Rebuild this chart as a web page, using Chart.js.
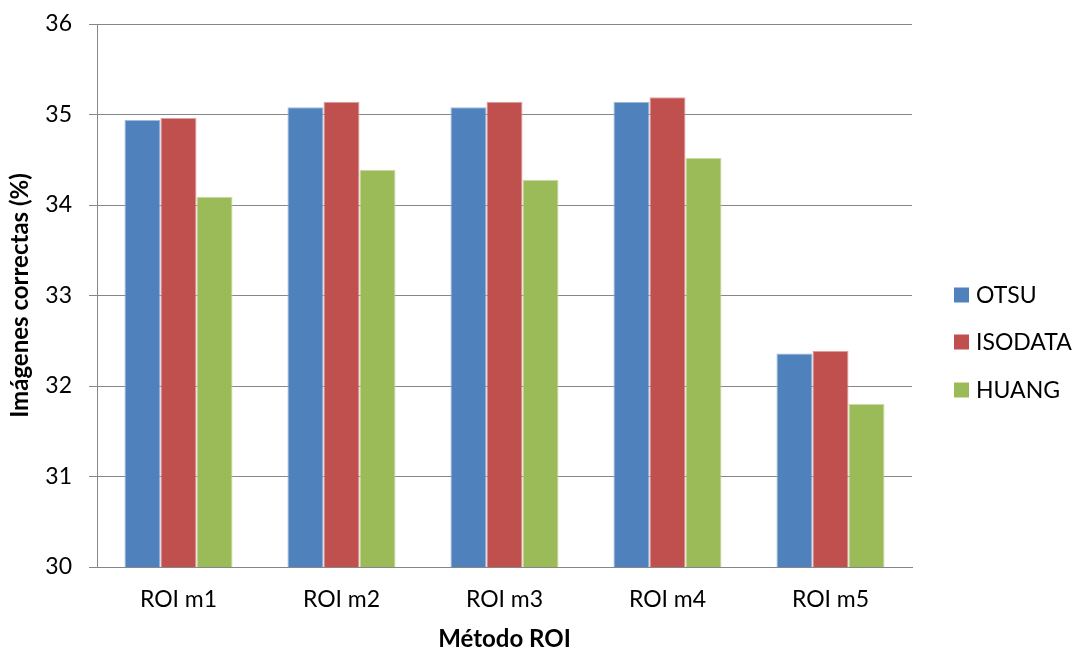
<!DOCTYPE html>
<html>
<head>
<meta charset="utf-8">
<script src="https://cdn.jsdelivr.net/npm/chart.js@4.4.1/dist/chart.umd.min.js"></script>
<style>
  html, body { margin: 0; padding: 0; background: #ffffff; }
  #wrap { width: 1075px; height: 651px; position: relative; }
</style>
</head>
<body>
<div id="wrap"><canvas id="c" width="1075" height="651"></canvas></div>
<script>
// Categories and series (percentage of correctly processed images)
const categories = ['ROI m1', 'ROI m2', 'ROI m3', 'ROI m4', 'ROI m5'];
const seriesNames = ['OTSU', 'ISODATA', 'HUANG'];
const otsu    = [34.94, 35.08, 35.08, 35.14, 32.36];
const isodata = [34.96, 35.14, 35.14, 35.19, 32.39];
const huang   = [34.09, 34.39, 34.28, 34.52, 31.80];
const yTicks  = [30, 31, 32, 33, 34, 35, 36];

const colors = ['#4F81BD', '#C0504D', '#9BBB59'];
const edges  = ['#9fb9dc', '#dea3a1', '#c9dca6'];
const FONT = 'Lato, "Open Sans", "DejaVu Sans", sans-serif';
const GRID = '#878787';

// Vertical legend drawn to the right of the plot area
const sideLegend = {
  id: 'sideLegend',
  afterDraw(chart) {
    const ctx = chart.ctx;
    const rows = [295, 342, 390];
    ctx.save();
    ctx.font = '23px ' + FONT;
    ctx.textBaseline = 'middle';
    ctx.textAlign = 'left';
    chart.data.datasets.forEach((ds, i) => {
      ctx.fillStyle = ds.backgroundColor;
      ctx.fillRect(954, rows[i] - 7.5, 15, 15);
      ctx.fillStyle = '#000000';
      ctx.fillText(ds.label, 976, rows[i] + 1);
    });
    ctx.restore();
  }
};

const seriesData = [otsu, isodata, huang];

new Chart(document.getElementById('c'), {
  type: 'bar',
  data: {
    labels: categories,
    datasets: seriesNames.map((name, i) => ({
      label: name,
      data: seriesData[i],
      backgroundColor: colors[i],
      borderColor: edges[i],
      borderWidth: 1,
      categoryPercentage: 0.663,
      barPercentage: 1.0
    }))
  },
  options: {
    responsive: false,
    animation: false,
    devicePixelRatio: 1,
    layout: { padding: { top: 24, right: 163, left: 0, bottom: 0 } },
    plugins: {
      legend: { display: false },
      tooltip: { enabled: false }
    },
    scales: {
      x: {
        grid: { display: false, drawTicks: false },
        border: { display: true, color: GRID, width: 1 },
        ticks: {
          color: '#000000',
          font: { family: FONT, size: 23 },
          padding: 19
        },
        title: {
          display: true,
          text: 'Método ROI',
          color: '#000000',
          font: { family: FONT, size: 24, weight: 'bold', lineHeight: 1.0 },
          padding: { top: 0, bottom: 0 }
        },
        afterFit(scale) { scale.height = 84; }
      },
      y: {
        min: 30,
        max: 36,
        afterBuildTicks(scale) { scale.ticks = yTicks.map(v => ({ value: v })); },
        grid: { color: GRID, lineWidth: 1, drawTicks: true, tickLength: 8, tickColor: GRID },
        border: { display: true, color: GRID, width: 1 },
        ticks: {
          color: '#000000',
          font: { family: FONT, size: 23, lineHeight: 0.6 },
          padding: 17
        },
        title: {
          display: true,
          text: 'Imágenes correctas (%)',
          color: '#000000',
          font: { family: FONT, size: 24, weight: 'bold', lineHeight: 1.0 },
          padding: { top: 8, bottom: 0 }
        },
        afterFit(scale) { scale.width = 97; }
      }
    }
  },
  plugins: [sideLegend]
});
</script>
</body>
</html>
